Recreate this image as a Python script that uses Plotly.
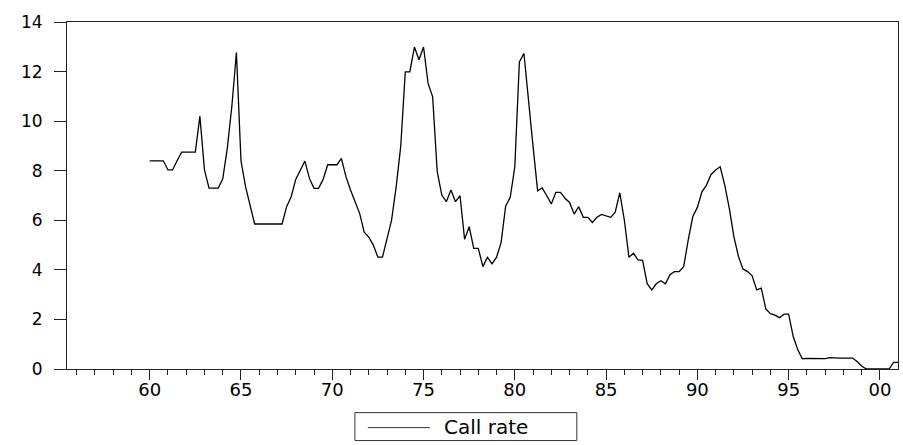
import plotly.graph_objects as go

# Quarterly call rate (%), 1960Q1 - 2001Q1
first_year = 1960
call_rate = [
    8.40, 8.40, 8.40, 8.40, 8.03, 8.03, 8.40, 8.75,      # 1960-61
    8.75, 8.75, 8.75, 10.20, 8.03, 7.30, 7.30, 7.30,     # 1962-63
    7.66, 8.90, 10.60, 12.77, 8.40, 7.36, 6.60, 5.85,    # 1964-65
    5.85, 5.85, 5.85, 5.85, 5.85, 5.85, 6.55, 6.95,      # 1966-67
    7.65, 8.05, 8.39, 7.69, 7.29, 7.29, 7.65, 8.24,      # 1968-69
    8.24, 8.24, 8.50, 7.76, 7.22, 6.75, 6.28, 5.52,      # 1970-71
    5.32, 5.00, 4.51, 4.51, 5.21, 6.01, 7.35, 8.97,      # 1972-73
    11.99, 11.99, 12.99, 12.48, 12.99, 11.52, 10.98, 7.96,  # 1974-75
    7.02, 6.75, 7.22, 6.75, 6.99, 5.23, 5.74, 4.87,      # 1976-77
    4.87, 4.13, 4.51, 4.24, 4.51, 5.11, 6.58, 6.93,      # 1978-79
    8.16, 12.39, 12.73, 10.71, 8.97, 7.19, 7.31, 6.99,   # 1980-81
    6.66, 7.13, 7.13, 6.89, 6.72, 6.25, 6.55, 6.12,      # 1982-83
    6.12, 5.91, 6.12, 6.24, 6.19, 6.12, 6.33, 7.11,      # 1984-85
    6.01, 4.51, 4.67, 4.40, 4.38, 3.44, 3.19, 3.44,      # 1986-87
    3.56, 3.44, 3.80, 3.93, 3.93, 4.13, 5.21, 6.15,      # 1988-89
    6.52, 7.15, 7.42, 7.85, 8.03, 8.16, 7.42, 6.48,      # 1990-91
    5.34, 4.54, 4.03, 3.93, 3.76, 3.19, 3.26, 2.42,      # 1992-93
    2.23, 2.17, 2.07, 2.21, 2.21, 1.31, 0.78, 0.41,      # 1994-95
    0.43, 0.43, 0.43, 0.43, 0.42, 0.46, 0.44, 0.44,      # 1996-97
    0.44, 0.44, 0.44, 0.30, 0.12, 0.00, 0.00, 0.00,      # 1998-99
    0.00, 0.00, 0.00, 0.27,                              # 2000
    0.27,                                                # 2001Q1
]
quarters = [f"{first_year + i // 4}Q{i % 4 + 1}" for i in range(len(call_rate))]
x_pos = [int(q[:4]) + (int(q[-1]) - 1) / 4 for q in quarters]

tick_years = [1960, 1965, 1970, 1975, 1980, 1985, 1990, 1995, 2000]
tick_text = ["60", "65", "70", "75", "80", "85", "90", "95", "00"]
y_ticks = [0, 2, 4, 6, 8, 10, 12, 14]

W, H = 903, 445
ML, MR, MT, MB = 67, 4.7, 21.7, 75.7
plot_w = W - ML - MR
plot_h = H - MT - MB


def px_x(px):
    return (px - ML) / plot_w


def px_y(py):
    return (H - MB - py) / plot_h


fig = go.Figure()
fig.add_trace(go.Scatter(
    x=x_pos, y=call_rate, mode="lines", name="Call rate",
    line=dict(color="black", width=1.3), showlegend=False,
))

axis_font = dict(family="DejaVu Sans", size=17, color="black")

fig.update_xaxes(
    range=[1955.47, 2000.99],
    tickmode="array", tickvals=tick_years, ticktext=tick_text,
    ticks="outside", ticklen=10, tickwidth=1, tickcolor="#222",
    ticklabelstandoff=-6,
    minor=dict(tickmode="linear", tick0=1956, dtick=1, ticks="outside",
               ticklen=5, tickwidth=1, tickcolor="#222", showgrid=False),
    showline=True, linecolor="#222", linewidth=1, mirror=True,
    showgrid=False, zeroline=False, tickfont=dict(axis_font, size=18),
)
fig.update_yaxes(
    range=[0, 14], tickmode="array", tickvals=y_ticks,
    ticks="outside", ticklen=12, tickwidth=1, tickcolor="#222",
    ticklabelstandoff=8,
    showline=True, linecolor="#222", linewidth=1, mirror=True,
    showgrid=False, zeroline=False, tickfont=axis_font,
)

# Legend box drawn below the plot
fig.add_shape(type="rect", xref="paper", yref="paper",
              x0=px_x(355), x1=px_x(577), y0=px_y(441), y1=px_y(413),
              line=dict(color="#333", width=1), fillcolor="white")
fig.add_shape(type="line", xref="paper", yref="paper",
              x0=px_x(368), x1=px_x(430), y0=px_y(428), y1=px_y(428),
              line=dict(color="#333", width=1))
fig.add_annotation(text="Call rate", xref="paper", yref="paper",
                   x=px_x(442), y=px_y(427.5), xanchor="left", yanchor="middle",
                   showarrow=False,
                   font=dict(family="DejaVu Sans", size=20, color="black"))

fig.update_layout(
    width=W, height=H,
    margin=dict(l=ML, r=MR, t=MT, b=MB, pad=0),
    paper_bgcolor="white", plot_bgcolor="white",
)

fig.write_html("out.html")
